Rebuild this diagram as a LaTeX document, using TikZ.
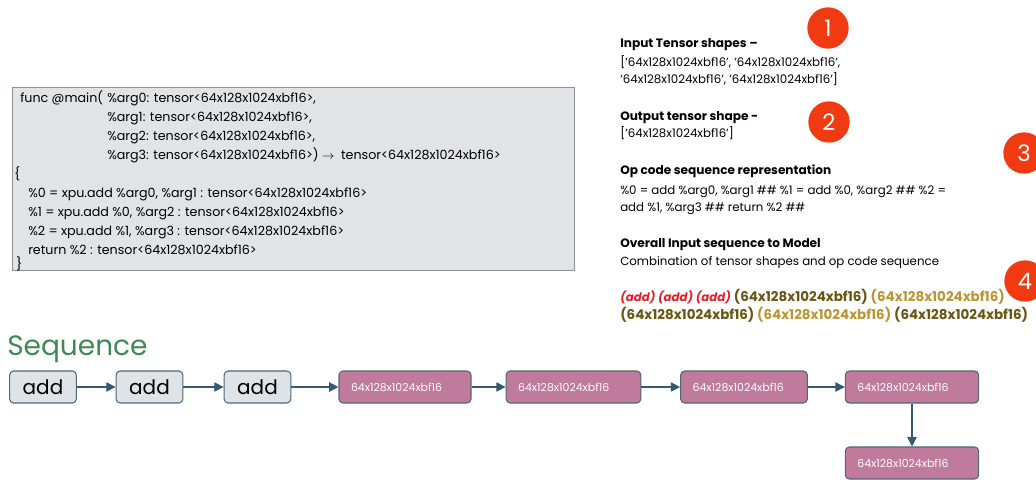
\documentclass[tikz,border=0pt]{standalone}
\usepackage{fontspec}
\setmainfont{Poppins}
\usetikzlibrary{arrows.meta}
\definecolor{codebg}{HTML}{E1E4E7}
\definecolor{codeline}{HTML}{8A9096}
\definecolor{addfill}{HTML}{DEE3E7}
\definecolor{boxline}{HTML}{4F6878}
\definecolor{pinkfill}{HTML}{C07A9C}
\definecolor{arrowc}{HTML}{355A70}
\definecolor{badge}{HTML}{F03A12}
\definecolor{seqgreen}{HTML}{3E8A55}
\definecolor{addred}{HTML}{E0202A}
\definecolor{olive}{HTML}{6A5512}
\definecolor{gold}{HTML}{BC9532}
\tikzset{
  txt/.style={anchor=base west, inner sep=0pt, font=\fontsize{8.85}{11}\selectfont},
  hdr/.style={anchor=base west, inner sep=0pt, font=\fontsize{9.1}{11}\bfseries},
  seqtxt/.style={anchor=base west, inner sep=0pt, font=\fontsize{10.1}{12}\bfseries},
  codetxt/.style={anchor=base west, inner sep=0pt, font=\fontsize{9.5}{11}\selectfont},
  addbox/.style={draw=boxline, fill=addfill, rounded corners=3pt, line width=0.8pt, minimum width=50pt, minimum height=24pt, inner sep=0pt, font=\fontsize{15}{18}\selectfont},
  pinkbox/.style={draw=boxline, fill=pinkfill, rounded corners=3pt, line width=0.8pt, minimum height=24pt, inner ysep=0pt, inner xsep=9pt, align=left, text=white, font=\fontsize{8.2}{9}\selectfont},
  conn/.style={draw=arrowc, line width=0.9pt, -{Triangle[length=7pt,width=7pt]}},
  badgenode/.style={circle, fill=badge, text=white, minimum size=31pt, inner sep=0pt, font=\fontsize{17}{20}\selectfont}
}
\begin{document}
\begin{tikzpicture}[x=0.75pt,y=-0.75pt]
\useasboundingbox (0,0) rectangle (1036,479);
\fill[white] (0,0) rectangle (1036,479);

% code box
\draw[codeline, fill=codebg, line width=0.6pt] (12,87) rectangle (574,270);
\node[codetxt] (c1) at (20,102) {func @main(};
\node[codetxt] (c1b) at (107,102) {\%arg0: tensor<64x128x1024xbf16>,};
\node[codetxt] (c2) at (107,121) {\%arg1: tensor<64x128x1024xbf16>,};
\node[codetxt] (c3) at (107,140) {\%arg2: tensor<64x128x1024xbf16>,};
\node[codetxt] (c4) at (107,159) {\%arg3: tensor<64x128x1024xbf16>) $\rightarrow$\ \ tensor<64x128x1024xbf16>};
\node[codetxt] (c5) at (14,178) {\{};
\node[codetxt] (c6) at (28,197) {\%0 = xpu.add \%arg0, \%arg1 : tensor<64x128x1024xbf16>};
\node[codetxt] (c7) at (28,216) {\%1 = xpu.add \%0, \%arg2 : tensor<64x128x1024xbf16>};
\node[codetxt] (c8) at (28,235) {\%2 = xpu.add \%1, \%arg3 : tensor<64x128x1024xbf16>};
\node[codetxt] (c9) at (28,254) {return \%2 : tensor<64x128x1024xbf16>};
\node[codetxt] (c10) at (16,268) {\}};

% right panel
\node[hdr] (t1) at (620,47) {Input Tensor shapes –};
\node[txt] (t2) at (620,66) {['64x128x1024xbf16', '64x128x1024xbf16',};
\node[txt] (t3) at (620,83) {'64x128x1024xbf16', '64x128x1024xbf16']};
\node[hdr] (t4) at (620,120) {Output tensor shape -};
\node[txt] (t5) at (620,137) {['64x128x1024xbf16']};
\node[hdr] (t6) at (620,174) {Op code sequence representation};
\node[txt] (t7) at (620,194) {\%0 = add \%arg0, \%arg1 \#\# \%1 = add \%0, \%arg2 \#\# \%2 =};
\node[txt] (t8) at (620,211) {add \%1, \%arg3 \#\# return \%2 \#\#};
\node[hdr] (t9) at (620,247) {Overall Input sequence to Model};
\node[txt] (t10) at (620,265) {Combination of tensor shapes and op code sequence};
\node[seqtxt] (t11) at (620,301) {\textcolor{addred}{\fontsize{8.8}{12}\selectfont\itshape (add) (add) (add)} \textcolor{olive}{(64x128x1024xbf16)} \textcolor{gold}{(64x128x1024xbf16)}};
\node[seqtxt] (t12) at (620,319) {\textcolor{olive}{(64x128x1024xbf16)} \textcolor{gold}{(64x128x1024xbf16)} \textcolor{olive}{(64x128x1024xbf16)}};

% badges
\node[badgenode] (b1) at (828,28) {1};
\node[badgenode] (b2) at (829,122) {2};
\node[badgenode] (b3) at (1024,153) {3};
\node[badgenode] (b4) at (1025,281) {4};

% Sequence
\node[anchor=base west, inner sep=0pt, text=seqgreen, font=\fontsize{21}{25}\selectfont] (seq) at (7,355) {Sequence};

\node[addbox] (a1) at (43,387) {add};
\node[addbox] (a2) at (149.5,387) {add};
\node[addbox] (a3) at (257.5,387) {add};
\node[pinkbox, text width=81pt] (p1) at (405,387) {64x128x1024xbf16};
\node[pinkbox, text width=83pt] (p2) at (573.5,387) {64x128x1024xbf16};
\node[pinkbox, text width=77pt] (p3) at (744,387) {64x128x1024xbf16};
\node[pinkbox, text width=82pt] (p4) at (912,387) {64x128x1024xbf16};
\node[pinkbox, text width=82pt] (p5) at (912,463) {64x128x1024xbf16};

\draw[conn] (a1) -- (a2);
\draw[conn] (a2) -- (a3);
\draw[conn] (a3) -- (p1);
\draw[conn] (p1) -- (p2);
\draw[conn] (p2) -- (p3);
\draw[conn] (p3) -- (p4);
\draw[conn] (p4) -- (p5);
\end{tikzpicture}
\end{document}
